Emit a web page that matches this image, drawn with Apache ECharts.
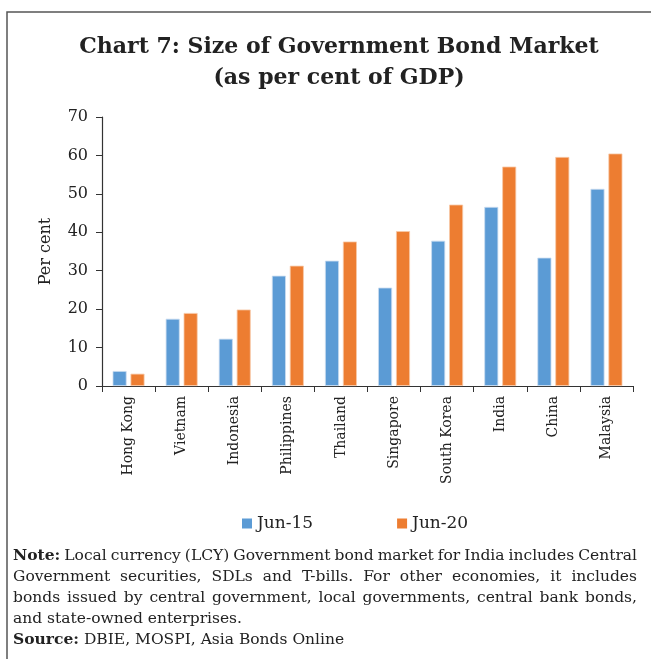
<!DOCTYPE html>
<html>
<head>
<meta charset="utf-8">
<script src="https://cdn.jsdelivr.net/npm/echarts@6/dist/echarts.min.js"></script>
<style>
html,body{margin:0;padding:0;background:#fff;}
#chart{width:651px;height:659px;}
</style>
</head>
<body>
<div id="chart"></div>
<script>
const categories = ['Hong Kong','Vietnam','Indonesia','Philippines','Thailand','Singapore','South Korea','India','China','Malaysia'];
const jun15 = [3.9, 17.5, 12.3, 28.7, 32.6, 25.6, 37.8, 46.6, 33.4, 51.3];
const jun20 = [3.2, 19.0, 19.9, 31.3, 37.6, 40.3, 47.2, 57.1, 59.6, 60.5];
const seriesNames = ['Jun-15', 'Jun-20'];
const yTicks = [0, 10, 20, 30, 40, 50, 60, 70];
const titleText = 'Chart 7: Size of Government Bond Market\n(as per cent of GDP)';
const yAxisName = 'Per cent';
const noteLines = [
  {bold: 'Note:', text: 'Local currency (LCY) Government bond market for India includes Central', justify: true},
  {bold: '', text: 'Government securities, SDLs and T-bills. For other economies, it includes', justify: true},
  {bold: '', text: 'bonds issued by central government, local governments, central bank bonds,', justify: true},
  {bold: '', text: 'and state-owned enterprises.', justify: false},
  {bold: 'Source:', text: 'DBIE, MOSPI, Asia Bonds Online', justify: false}
];

const SERIF = '"DejaVu Serif", serif';
const noteSize = 15.5;
const ctx = document.createElement('canvas').getContext('2d');
function measure(t, bold) {
  ctx.font = (bold ? 'bold ' : '') + noteSize + 'px "DejaVu Serif"';
  return ctx.measureText(t).width;
}
const noteLeft = 13, noteRight = 637, noteTop = 556, noteLH = 21;
const graphics = [];
graphics.push({
  type: 'polyline', silent: true,
  shape: {points: [[7, 700], [7, 12], [700, 12]]},
  style: {stroke: '#555', lineWidth: 1.5, fill: null}
});
noteLines.forEach((ln, i) => {
  const y = noteTop + i * noteLH;
  const words = [];
  if (ln.bold) words.push({t: ln.bold, b: true});
  ln.text.split(' ').forEach(t => words.push({t: t, b: false}));
  const widths = words.map(w => measure(w.t, w.b));
  const total = widths.reduce((a, b) => a + b, 0);
  let space = ln.justify ? (noteRight - noteLeft - total) / (words.length - 1) : measure(' ', false);
  let scaleX = 1;
  if (space < 2) { space = 3; }
  let x = noteLeft;
  words.forEach((w, k) => {
    graphics.push({
      type: 'text', silent: true, x: x, y: y,
      style: {text: w.t, fill: '#222', font: (w.b ? 'bold ' : '') + noteSize + 'px "DejaVu Serif"', textVerticalAlign: 'middle', verticalAlign: 'middle'}
    });
    x += widths[k] + space;
  });
});

const chart = echarts.init(document.getElementById('chart'));
chart.setOption({
  animation: false,
  backgroundColor: '#fff',
  title: {
    text: titleText,
    left: 334, top: 27, textAlign: 'center',
    textStyle: {fontFamily: SERIF, fontSize: 22, fontWeight: 'bold', color: '#222', lineHeight: 31}
  },
  grid: {left: 102, right: 18, top: 117, bottom: 273, containLabel: false},
  legend: {
    data: seriesNames,
    left: 237, top: 510,
    itemWidth: 10, itemHeight: 10, itemGap: 84,
    icon: 'rect',
    itemStyle: {borderWidth: 0},
    textStyle: {fontFamily: SERIF, fontSize: 17, color: '#222'}
  },
  xAxis: {
    type: 'category', data: categories,
    axisLine: {lineStyle: {color: '#333', width: 1.2}},
    axisTick: {show: true, length: 6, lineStyle: {color: '#333'}},
    axisLabel: {rotate: 90, interval: 0, margin: 10, fontFamily: SERIF, fontSize: 14, color: '#222'}
  },
  yAxis: {
    type: 'value', min: yTicks[0], max: yTicks[yTicks.length - 1], interval: 10,
    name: yAxisName, nameLocation: 'middle', nameGap: 48, nameRotate: 90,
    nameTextStyle: {fontFamily: SERIF, fontSize: 16, color: '#222'},
    axisLine: {show: true, lineStyle: {color: '#333', width: 1.2}},
    axisTick: {show: true, length: 6, lineStyle: {color: '#333'}},
    splitLine: {show: false},
    axisLabel: {fontFamily: SERIF, fontSize: 16, color: '#222', margin: 14}
  },
  series: [
    {name: seriesNames[0], type: 'bar', data: jun15, barWidth: 14, barGap: '28%',
     itemStyle: {color: '#5B9BD5', borderColor: '#c9dcf0', borderWidth: 0.8}},
    {name: seriesNames[1], type: 'bar', data: jun20, barWidth: 14, barGap: '28%',
     itemStyle: {color: '#ED7D31', borderColor: '#f8c9a8', borderWidth: 0.8}}
  ],
  graphic: graphics
});
</script>
</body>
</html>
